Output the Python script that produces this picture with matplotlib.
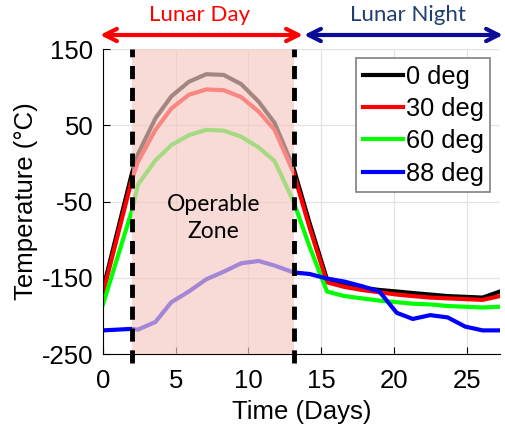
import numpy as np
import matplotlib
matplotlib.use("Agg")
import matplotlib.pyplot as plt

# time (days) and surface temperature (deg C) for each latitude
t = [0, 2.0, 2.4, 3.6, 4.7, 5.9, 7.1, 8.3, 9.5, 10.7, 11.8, 13.1,
     14.2, 15.4, 16.6, 17.8, 19.0, 20.2, 21.3, 22.5, 23.7, 24.9, 26.1, 27.3]
temp_0 = [-165, -12, 12, 59, 88, 107, 117, 116, 104, 81, 53, -6,
          -78, -152, -158, -163, -166, -168, -170, -172, -174, -175, -176, -168]
temp_30 = [-170, -20, 2, 44, 72, 90, 97, 96, 87, 68, 44, -12,
           -84, -156, -162, -166, -169, -172, -174, -176, -177, -178, -179, -174]
temp_60 = [-185, -61, -28, 4, 24, 37, 44, 43, 35, 21, 3, -50,
           -109, -168, -174, -177, -180, -182, -184, -185, -187, -188, -189, -188]
temp_88 = [-219, -217, -218, -208, -182, -168, -152, -142, -131, -128, -134, -143,
           -145, -151, -155, -161, -168, -196, -204, -199, -202, -214, -219, -219]
labels = ["0 deg", "30 deg", "60 deg", "88 deg"]
colors = ["black", "red", "#00ff00", "blue"]

day_start, day_end = 2.0, 13.1

plt.rcParams['font.family'] = ['Liberation Sans', 'DejaVu Sans']
plt.rcParams['axes.unicode_minus'] = False

fig = plt.figure(figsize=(5.06, 4.33), dpi=100)
ax = fig.add_axes([0.2036, 0.1824, 0.7846, 0.7044])

for y, c, lab in zip([temp_0, temp_30, temp_60, temp_88], colors, labels):
    ax.plot(t, y, color=c, lw=3, label=lab, zorder=2)

# operable zone shading (drawn over the curves)
ax.axvspan(day_start, day_end, color=(246/255, 201/255, 194/255), alpha=0.67,
           lw=0, zorder=3)
for xv in [day_start, day_end]:
    ax.plot([xv, xv], [-262, 150], color="black", lw=3.5,
            linestyle=(0, (2.7, 1.8)), clip_on=False, zorder=4)

ax.text(7.6, -72, "Operable\nZone", ha="center", va="center", fontsize=16.5,
        family="Lato", linespacing=1.35, zorder=5)

ax.set_xlim(0, 27.3)
ax.set_ylim(-250, 150)
ax.set_xticks([0, 5, 10, 15, 20, 25])
ax.set_yticks([-250, -150, -50, 50, 150])
ax.tick_params(direction="in", length=5, labelsize=18.5, top=False, right=False)
ax.tick_params(axis="x", pad=11)
ax.tick_params(axis="y", pad=7)
ax.grid(True, color="#e3e3e3", lw=0.9, zorder=0)
ax.set_axisbelow(True)
for s in ["top", "right"]:
    ax.spines[s].set_visible(False)
ax.set_xlabel("Time (Days)", fontsize=18.5, labelpad=5)
ax.set_ylabel("Temperature (°C)", fontsize=18.5, labelpad=3)

leg = ax.legend(loc="upper right", bbox_to_anchor=(0.975, 0.97), fontsize=18.3,
                handlelength=1.6, handletextpad=0.1, labelspacing=0.33,
                borderpad=0.25, borderaxespad=0, fancybox=False, framealpha=1)
leg.get_frame().set_edgecolor("#808080")
leg.get_frame().set_linewidth(1.2)
leg.set_zorder(6)

# lunar day / night arrows above the plot
ay = 433 - 35
ax.annotate("", xy=(100, ay), xytext=(303, ay), xycoords="figure pixels",
            textcoords="figure pixels",
            arrowprops=dict(arrowstyle="<->", color="red", lw=3,
                            mutation_scale=22, shrinkA=0, shrinkB=0))
ax.annotate("", xy=(304, ay), xytext=(503, ay), xycoords="figure pixels",
            textcoords="figure pixels",
            arrowprops=dict(arrowstyle="<->", color="#0b0b96", lw=3,
                            mutation_scale=22, shrinkA=0, shrinkB=0))
fig.text(200 / 506, 1 - 15 / 433, "Lunar Day", color="red", fontsize=16,
         family="Lato", ha="center", va="center")
fig.text(408 / 506, 1 - 15 / 433, "Lunar Night", color="#1f3f6e", fontsize=16,
         family="Lato", ha="center", va="center")

fig.savefig("out.png", dpi=100)
